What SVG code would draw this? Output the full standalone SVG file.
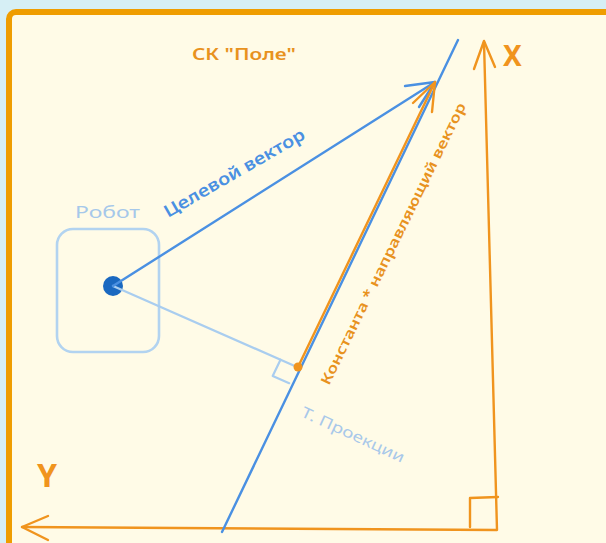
<svg xmlns="http://www.w3.org/2000/svg" width="606" height="543" viewBox="0 0 606 543">
<defs>
<style>
.t{font-family:"Noto Sans","Open Sans","DejaVu Sans",sans-serif;}
.or{stroke:#f0941e;fill:none;stroke-width:2.4;stroke-linecap:round;stroke-linejoin:round;}
.bl{stroke:#4a90e2;fill:none;stroke-width:2.4;stroke-linecap:round;stroke-linejoin:round;}
.lb{stroke:#a9cdef;fill:none;stroke-width:2.2;stroke-linecap:round;stroke-linejoin:round;}
</style>
</defs>
<rect x="0" y="0" width="606" height="543" fill="#d6eff5"/>
<rect x="9" y="12" width="640" height="580" rx="7" fill="#fffbe7" stroke="#ef9d00" stroke-width="6"/>

<g id="title">
<text class="t" x="192" y="60" font-size="16" font-weight="600" fill="#e8921e" textLength="104" lengthAdjust="spacingAndGlyphs">СК "Поле"</text>
</g>

<g id="robot">
<rect x="57" y="229" width="102" height="123" rx="16" fill="none" stroke="#b2d3f0" stroke-width="2.6"/>
<text class="t" x="75" y="218" font-size="16" fill="#a6c8ea" textLength="65" lengthAdjust="spacingAndGlyphs">Робот</text>
<circle cx="113" cy="286" r="10" fill="#1a68c0"/>
</g>

<g id="axes">
<path class="or" d="M484 42 L497 530 L22 527"/>
<path class="or" d="M474 69 L484 41 L495 67"/>
<path class="or" d="M48 516 L22 527 L48 540"/>
<path class="or" d="M470 527 L470 498 L498 497"/>
<text class="t" x="503" y="66" font-size="28" font-weight="bold" fill="#f0941e">X</text>
<text class="t" x="37" y="487" font-size="32" font-weight="bold" fill="#f0941e">Y</text>
</g>

<g id="projection-line">
<path class="bl" d="M222 532 L458 40"/>
<text class="t" font-size="15" fill="#a8c8ea" transform="translate(300,416) rotate(24.7)" textLength="112" lengthAdjust="spacingAndGlyphs">Т. Проекции</text>
</g>

<g id="connectors">
<path class="lb" d="M113 286 L297 367"/>
<path class="lb" d="M280.5 359.7 L272.7 375.9 L289.2 383.2"/>
<path class="bl" d="M113 286 L435 82"/>
<path class="bl" d="M405 86 L435 82 L419 107"/>
<text class="t" font-size="17" font-weight="600" fill="#4a90e2" transform="translate(168,218) rotate(-30)" textLength="160" lengthAdjust="spacingAndGlyphs">Целевой вектор</text>
<path class="or" d="M298 367 L435 82"/>
<path class="or" d="M413 103 L435 82 L432 112"/>
<circle cx="298" cy="367" r="4.5" fill="#f0941e"/>
<text class="t" font-size="14" font-weight="600" fill="#e8921e" transform="translate(329,386) rotate(-63.9)" textLength="312" lengthAdjust="spacingAndGlyphs">Константа * направляющий вектор</text>
</g>
</svg>
